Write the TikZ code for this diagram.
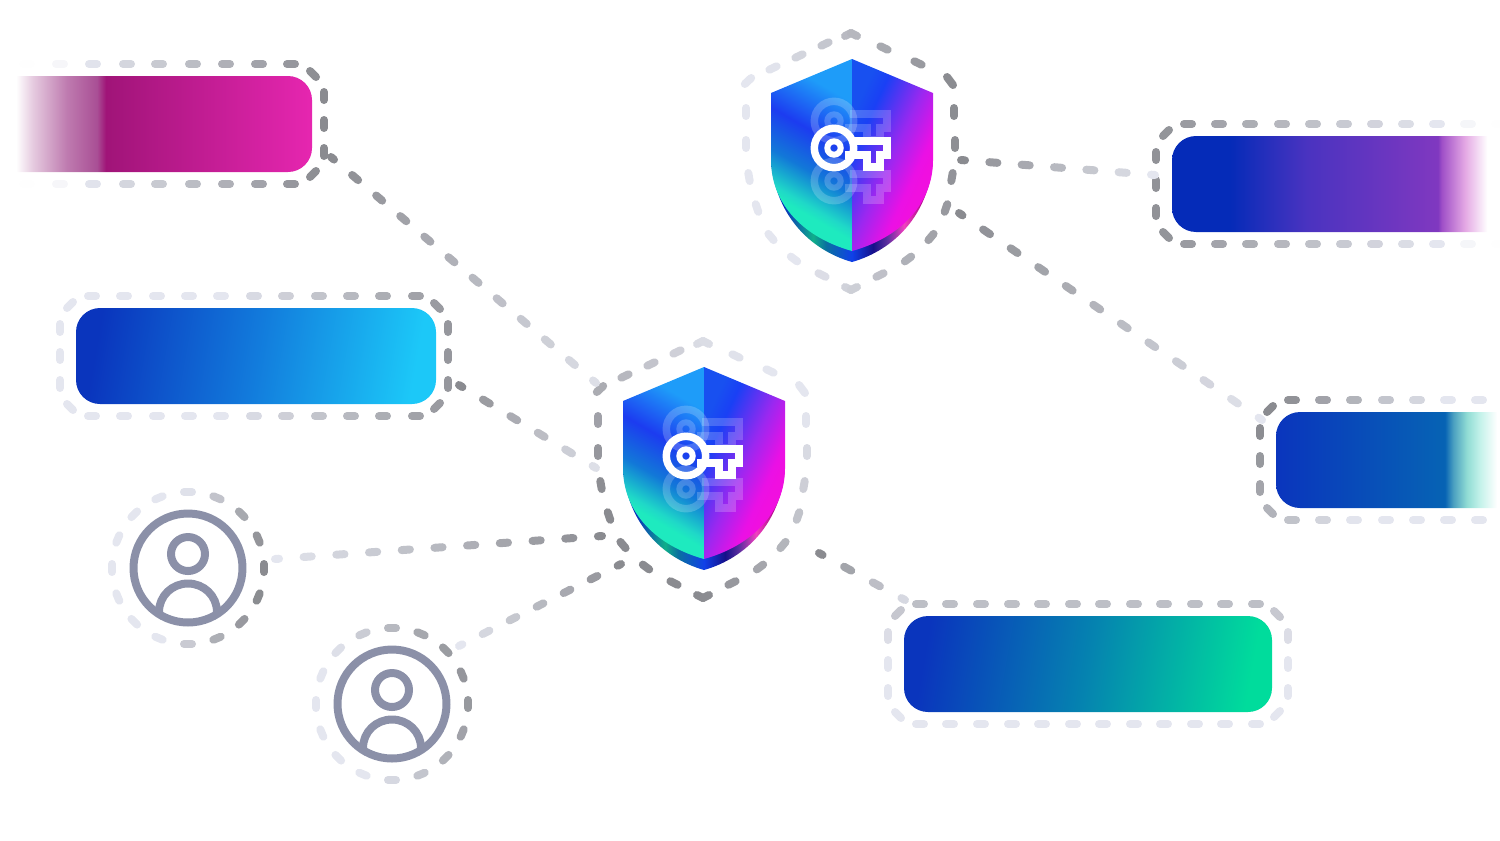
\documentclass[tikz,border=0pt]{standalone}
\usepackage{tikz}
\usetikzlibrary{calc}
\definecolor{dashdark}{RGB}{138,139,144}
\definecolor{dashlight}{RGB}{228,230,239}
\definecolor{iconslate}{HTML}{8B90A8}
\definecolor{deepblue}{HTML}{0A35BD}
\definecolor{pinkdeep}{HTML}{A01478}
\definecolor{pinkfade}{HTML}{A94F95}
\definecolor{pinkhot}{HTML}{E626B0}
\definecolor{skymid}{HTML}{127BDC}
\definecolor{skyend}{HTML}{1CC8F8}
\definecolor{royal}{HTML}{052BB8}
\definecolor{violetmid}{HTML}{4A33C0}
\definecolor{violetend}{HTML}{8038C0}
\definecolor{violetfade}{HTML}{A050C8}
\definecolor{lilacfade}{HTML}{E4A8E4}
\definecolor{tealbase}{HTML}{0663B4}
\definecolor{tealfadeA}{HTML}{4A9FC0}
\definecolor{tealfadeB}{HTML}{90DCD4}
\definecolor{tealfadeC}{HTML}{C4F2EA}
\definecolor{greenmid}{HTML}{0583B0}
\definecolor{greenend}{HTML}{00DC9C}
\definecolor{shieldA}{HTML}{1EEABF}
\definecolor{shieldB}{HTML}{1FD8C8}
\definecolor{shieldC}{HTML}{17A8D0}
\definecolor{shieldD}{HTML}{1278D8}
\definecolor{shieldE}{HTML}{1C3CF0}
\definecolor{shieldF}{HTML}{1E9CF9}
\definecolor{shieldG}{HTML}{1850F0}
\definecolor{shieldH}{HTML}{1A40F5}
\definecolor{shieldI}{HTML}{9A28F0}
\definecolor{shieldJ}{HTML}{EA10E5}
\definecolor{shieldK}{HTML}{F00FE0}
\definecolor{rimA}{HTML}{0A25C0}
\definecolor{rimB}{HTML}{0FAE8A}
\definecolor{rimC}{HTML}{0A70A0}
\definecolor{rimD}{HTML}{1040E8}
\definecolor{rimE}{HTML}{15108A}
\definecolor{rimF}{HTML}{6030A0}
\definecolor{rimG}{HTML}{F040C0}
\definecolor{rimH}{HTML}{C01A98}
\definecolor{rimI}{HTML}{A00A80}

\pgfdeclarehorizontalshading{boxpink}{100bp}{color(0bp)=(white); color(28.75bp)=(white); color(31.4bp)=(pinkfade!30); color(36.7bp)=(pinkfade!75); color(41.4bp)=(pinkfade); color(42.8bp)=(pinkdeep); color(75bp)=(pinkhot); color(100bp)=(pinkhot)}
\pgfdeclarehorizontalshading{boxsky}{100bp}{color(0bp)=(deepblue); color(25bp)=(deepblue); color(50bp)=(skymid); color(75bp)=(skyend); color(100bp)=(skyend)}
\pgfdeclarehorizontalshading{boxviolet}{100bp}{color(0bp)=(royal); color(33.6bp)=(royal); color(44.9bp)=(violetmid); color(64.2bp)=(violetend); color(64.8bp)=(violetfade); color(68.2bp)=(lilacfade); color(71.5bp)=(white); color(100bp)=(white)}
\pgfdeclarehorizontalshading{boxteal}{100bp}{color(0bp)=(deepblue); color(25bp)=(deepblue); color(59.6bp)=(tealbase); color(61.3bp)=(tealfadeA); color(64.1bp)=(tealfadeB); color(66.8bp)=(tealfadeC); color(70.3bp)=(white); color(100bp)=(white)}
\pgfdeclarehorizontalshading{boxgreen}{100bp}{color(0bp)=(deepblue); color(25bp)=(deepblue); color(50bp)=(greenmid); color(75bp)=(greenend); color(100bp)=(greenend)}
\pgfdeclareverticalshading{shieldleft}{100bp}{color(0bp)=(shieldA); color(32bp)=(shieldA); color(35bp)=(shieldB); color(40bp)=(shieldC); color(45bp)=(shieldD); color(57bp)=(shieldE); color(72bp)=(shieldF); color(100bp)=(shieldF)}
\pgfdeclarehorizontalshading{shieldright}{100bp}{color(0bp)=(shieldG); color(27bp)=(shieldG); color(34bp)=(shieldH); color(50bp)=(shieldI); color(62bp)=(shieldJ); color(66bp)=(shieldK); color(100bp)=(shieldK)}
\pgfdeclarehorizontalshading{shieldrim}{100bp}{color(0bp)=(rimA); color(28bp)=(rimA); color(38bp)=(rimB); color(42bp)=(rimC); color(50bp)=(rimD); color(56.5bp)=(rimE); color(61bp)=(rimF); color(66bp)=(rimG); color(70bp)=(rimH); color(74bp)=(rimI); color(100bp)=(rimI)}

\tikzset{
  dashline/.style={line width=0.16cm, line cap=round},
  gradbox/.style={rectangle, rounded corners=0.48cm, inner sep=0pt, minimum width=#1*0.02cm, minimum height=1.92cm},
  hubspot/.style={inner sep=0pt, minimum size=0pt},
  iconline/.style={iconslate, line width=0.16cm},
  keyline/.style={white, line width=0.15cm}
}

% one dash of a ring, coloured by \fadeexpr at its middle (\mx,\my)
\newcommand{\dashat}[4]{%
  \pgfmathsetmacro\mx{#1}\pgfmathsetmacro\my{#2}%
  \pgfmathsetmacro\hx{#3}\pgfmathsetmacro\hy{#4}%
  \pgfmathsetmacro\dashc{max(min(\fadeexpr,100),-95)}%
  \ifdim\dashc pt<0pt
    \pgfmathsetmacro\dashw{100+\dashc}\colorlet{dashnow}{dashlight!\dashw!white}%
  \else
    \colorlet{dashnow}{dashdark!\dashc!dashlight}%
  \fi
  \draw[dashline, dashnow] ({\mx-\hx},{\my-\hy}) -- ({\mx+\hx},{\my+\hy});}

% ring round a box: rows, then the sides
\newcommand{\boxrows}[3]{%
  \foreach \x in {#1} {\dashat{\x}{#2}{4}{0}\dashat{\x}{#3}{4}{0}}}
\newcommand{\boxright}[3]{%
  \pgfmathsetmacro\midy{(#2+#3)/2}%
  \foreach \d in {-28,0,28} {\dashat{#1}{\midy+\d}{0}{4}}
  \dashat{#1-11}{#2+10}{3}{3}\dashat{#1-11}{#3-10}{-3}{3}}
\newcommand{\boxleft}[3]{%
  \pgfmathsetmacro\midy{(#2+#3)/2}%
  \foreach \d in {-28,0,28} {\dashat{#1}{\midy+\d}{0}{4}}
  \dashat{#1+10}{#2+9}{3}{-3}\dashat{#1+10}{#3-9}{3}{3}}

% dashed connector between two named points
\newcommand{\fadelink}[5]{%
  \foreach \i in {1,...,#3} {
    \pgfmathsetmacro\ta{max(0,(\i-1.125)/(#3-1))}
    \pgfmathsetmacro\tb{min(1,(\i-0.875)/(#3-1))}
    \pgfmathsetmacro\tc{#4+(#5-#4)*(\i-1)/(#3-1)}
    \draw[dashline, dashdark!\tc!dashlight] ($(#1)!\ta!(#2)$) -- ($(#1)!\tb!(#2)$);
  }}

% key icon
\newcommand{\drawkey}{%
  \draw[keyline] (-18,0) circle[radius=0.394cm];
  \draw[keyline, line width=0.12cm] (-18,0) circle[radius=0.134cm];
  \draw[keyline] (-2,-7) -- (35,-7) -- (35,7) -- (28,7) -- (28,19) -- (15,19) -- (15,7) -- (-7,7);}

% shield with its ring, #1 = node, #2 = colour of the ring
\newcommand{\drawshield}[2]{%
  \begin{scope}[shift={(#1)}]
    \def\fadeexpr{#2}
    \dashat{-4}{-125.5}{3}{-1.5}\dashat{2}{-125.5}{3}{1.5}
    \dashat{-4}{128.5}{3}{1.5}\dashat{2}{128.5}{3}{-1.5}
    \foreach \a/\b/\c/\d in {32/-112/3.6/1.7, 66/-97/3.6/1.7, 98/-79/3/4, 102/-48/0/4, 103/-16/0/4,
        100/17/-0.7/4, 94/48/-1.3/3.8, 79/77/-2.6/3.1, 56/99/-3.2/2.4, 28/115/-3.6/1.8,
        -30/115/-3.6/-1.8, -58/99/-3.2/-2.4, -81/77/-2.6/-3.1, -95/48/-1.3/-3.8, -103/17/-0.7/-4,
        -106/-16/0/4, -106/-48/0/4, -104/-79/3.2/-3, -79/-92/3.6/-1.7, -53/-104/3.6/-1.7, -27/-116/3.6/-1.7} {
      \dashat{\a}{\b}{\c}{\d}
    }
    % back, then the two faces
    \shade[shading=shieldrim] (-81,0) .. controls (-77,55) and (-42,90) .. (0,102)
        .. controls (42,90) and (77,55) .. (81,0) -- cycle;
    \shade[shading=shieldleft, shading angle=-30] (0,-101) -- (-81,-67) -- (-81,0)
        .. controls (-81,45) and (-47,78) .. (0,91) -- cycle;
    \shade[shading=shieldright, shading angle=-25] (0,-101) -- (81,-67) -- (81,0)
        .. controls (81,45) and (47,78) .. (0,91) -- cycle;
    % keys
    \begin{scope}[shift={(0,-39)}, opacity=0.2]\drawkey\end{scope}
    \begin{scope}[shift={(0,21)}, opacity=0.2]\drawkey\end{scope}
    \begin{scope}[shift={(0,-12)}]\drawkey\end{scope}
  \end{scope}}

% user with its ring
\newcommand{\drawuser}[2]{%
  \begin{scope}[shift={(#1)}]
    \def\fadeexpr{#2}
    \foreach \a in {0,22.5,...,337.5} {
      \dashat{76*cos(\a)}{76*sin(\a)}{-4*sin(\a)}{4*cos(\a)}
    }
    \draw[iconline] (0,0) circle[radius=1.09cm];
    \draw[iconline] (0,-14) circle[radius=0.34cm];
    \draw[iconline] (-29,44) .. controls (-29,28) and (-16,15.5) .. (0,15.5)
        .. controls (16,15.5) and (29,28) .. (29,44);
  \end{scope}}

\begin{document}
\begin{tikzpicture}[x=0.02cm, y=-0.02cm]
\useasboundingbox (0,0) rectangle (1500,840);

% Boxes
\node[gradbox=320, shading=boxpink] (pinkbox) at (152,124) {};
\node[gradbox=360, shading=boxsky, shading angle=-10] (skybox) at (256,356) {};
\node[gradbox=339, shading=boxviolet] (violetbox) at (1341.5,184) {};
\node[gradbox=244, shading=boxteal] (tealbox) at (1398,460) {};
\node[gradbox=368, shading=boxgreen, shading angle=-10] (greenbox) at (1088,664) {};

% Hubs
\node[hubspot] (topshield) at (852,160) {};
\node[hubspot] (midshield) at (704,468) {};
\node[hubspot] (userone) at (188,568) {};
\node[hubspot] (usertwo) at (392,704) {};

% Rings of the boxes
\def\fadeexpr{min((\mx-85)*0.42,(\mx-85)*2.6)}
\boxrows{27,60,93,127,159,193,226,259,291}{64}{184}
\boxright{324}{64}{184}

\def\fadeexpr{max(0,(\mx-220)*0.38)}
\boxrows{92,124,157,189,221,254,286,319,351,383,416}{296}{416}
\boxright{448}{296}{416}
\boxleft{60}{296}{416}

\def\fadeexpr{min((1437-\mx)*0.33,(1437-\mx)*2)}
\boxrows{1188,1219,1250,1282,1313,1344,1375,1406,1437,1468,1499}{124}{244}
\boxleft{1156}{124}{244}

\def\fadeexpr{max(0,100-(\mx-1280)*0.6-(\my-400)*0.45)}
\boxrows{1292,1323,1354,1386,1417,1448,1479}{400}{520}
\boxleft{1260}{400}{520}

\def\fadeexpr{max(0,(645-\my)*1.05)}
\boxrows{920,950,981,1012,1042,1073,1103,1134,1164,1195,1225,1256}{604}{724}
\boxright{1288}{604}{724}
\boxleft{888}{604}{724}

% Shields and users
\drawshield{topshield}{max(0,37.5+0.55*\mx-0.1*\my)}
\drawshield{midshield}{max(0,55-0.35*\mx+0.35*\my)}
\drawuser{userone}{max(0,18+1.08*\mx+0.16*\my)}
\drawuser{usertwo}{max(0,32.5+0.69*\mx-0.23*\my)}

% Connectors
\coordinate (pinkout) at ($(pinkbox)+(179,33)$);
\coordinate (midA) at ($(midshield)+(-108,-85)$);
\coordinate (skyout) at ($(skybox)+(203,29)$);
\coordinate (midB) at ($(midshield)+(-108,0)$);
\coordinate (oneout) at ($(userone)+(87,-9)$);
\coordinate (midC) at ($(midshield)+(-102,68)$);
\coordinate (twoout) at ($(usertwo)+(67,-58)$);
\coordinate (midD) at ($(midshield)+(-83,96)$);
\coordinate (midE) at ($(midshield)+(115,85)$);
\coordinate (greenin) at ($(greenbox)+(-183,-64)$);
\coordinate (topA) at ($(topshield)+(109,0)$);
\coordinate (violetin) at ($(violetbox)+(-186.5,-9)$);
\coordinate (topB) at ($(topshield)+(107,53)$);
\coordinate (tealin) at ($(tealbox)+(-136,-40)$);

\fadelink{pinkout}{midA}{12}{100}{8}
\fadelink{skyout}{midB}{6}{100}{8}
\fadelink{oneout}{midC}{11}{0}{100}
\fadelink{twoout}{midD}{7}{0}{100}
\fadelink{midE}{greenin}{4}{100}{15}
\fadelink{topA}{violetin}{7}{100}{0}
\fadelink{topB}{tealin}{12}{100}{0}

\end{tikzpicture}
\end{document}
